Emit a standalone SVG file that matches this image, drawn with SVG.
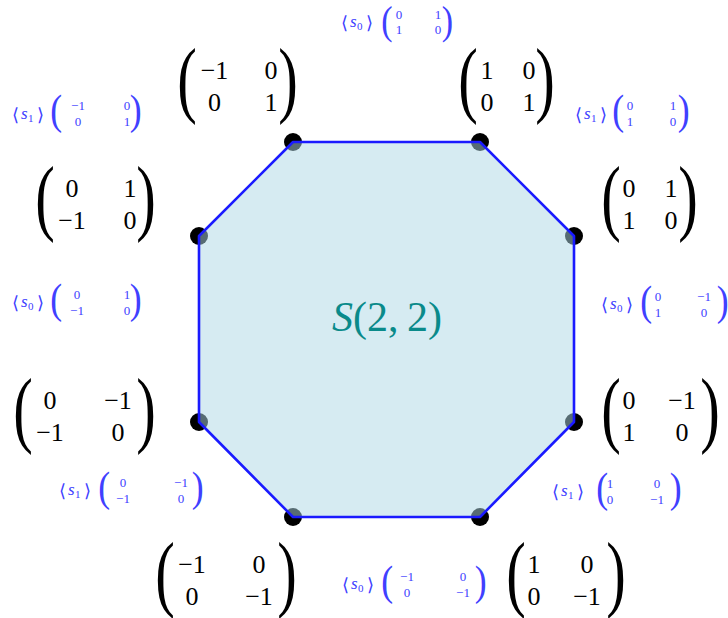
<svg xmlns="http://www.w3.org/2000/svg" width="728" height="618" viewBox="0 0 728 618">
<rect width="728" height="618" fill="#fff"/>
<g id="vertex-dots" fill="#000">
<circle cx="293" cy="142" r="9"/>
<circle cx="480" cy="142" r="9"/>
<circle cx="574" cy="236" r="9"/>
<circle cx="574" cy="422" r="9"/>
<circle cx="480" cy="517" r="9"/>
<circle cx="293" cy="517" r="9"/>
<circle cx="199" cy="422" r="9"/>
<circle cx="199" cy="236" r="9"/>
</g>
<g id="connectors">
<polygon points="293,142 480,142 574,236 574,422 480,517 293,517 199,422 199,236" fill="#add8e6" fill-opacity="0.5" stroke="#1a1aff" stroke-width="2.6" stroke-linejoin="round"/>
</g>
<g id="S22">
<text style="font-family:'Liberation Serif',serif" font-size="42" fill="#0a8a8a" text-anchor="middle" x="387" y="331"><tspan font-style="italic">S</tspan>(2,&#8201;2)</text>
</g>
<g id="m1" fill="#000">
<text style="font-family:'Liberation Serif',serif" font-size="84" transform="translate(177.2,107) scale(0.7,1)">(</text>
<text style="font-family:'Liberation Serif',serif" font-size="84" transform="translate(278.2,107) scale(0.7,1)">)</text>
<text style="font-family:'Liberation Serif',serif" font-size="26" text-anchor="middle" x="214.5" y="79">−1</text>
<text style="font-family:'Liberation Serif',serif" font-size="26" text-anchor="middle" x="271" y="79">0</text>
<text style="font-family:'Liberation Serif',serif" font-size="26" text-anchor="middle" x="214.5" y="111">0</text>
<text style="font-family:'Liberation Serif',serif" font-size="26" text-anchor="middle" x="271" y="111">1</text>
</g>
<g id="m2" fill="#000">
<text style="font-family:'Liberation Serif',serif" font-size="84" transform="translate(458.2,107) scale(0.7,1)">(</text>
<text style="font-family:'Liberation Serif',serif" font-size="84" transform="translate(535.2,107) scale(0.7,1)">)</text>
<text style="font-family:'Liberation Serif',serif" font-size="26" text-anchor="middle" x="487" y="79">1</text>
<text style="font-family:'Liberation Serif',serif" font-size="26" text-anchor="middle" x="529" y="79">0</text>
<text style="font-family:'Liberation Serif',serif" font-size="26" text-anchor="middle" x="487" y="111">0</text>
<text style="font-family:'Liberation Serif',serif" font-size="26" text-anchor="middle" x="529" y="111">1</text>
</g>
<g id="m3" fill="#000">
<text style="font-family:'Liberation Serif',serif" font-size="84" transform="translate(35.2,225) scale(0.7,1)">(</text>
<text style="font-family:'Liberation Serif',serif" font-size="84" transform="translate(136.2,225) scale(0.7,1)">)</text>
<text style="font-family:'Liberation Serif',serif" font-size="26" text-anchor="middle" x="72" y="197">0</text>
<text style="font-family:'Liberation Serif',serif" font-size="26" text-anchor="middle" x="130" y="197">1</text>
<text style="font-family:'Liberation Serif',serif" font-size="26" text-anchor="middle" x="72" y="229">−1</text>
<text style="font-family:'Liberation Serif',serif" font-size="26" text-anchor="middle" x="130" y="229">0</text>
</g>
<g id="m4" fill="#000">
<text style="font-family:'Liberation Serif',serif" font-size="84" transform="translate(601.2,225) scale(0.7,1)">(</text>
<text style="font-family:'Liberation Serif',serif" font-size="84" transform="translate(678.2,225) scale(0.7,1)">)</text>
<text style="font-family:'Liberation Serif',serif" font-size="26" text-anchor="middle" x="629" y="197">0</text>
<text style="font-family:'Liberation Serif',serif" font-size="26" text-anchor="middle" x="671" y="197">1</text>
<text style="font-family:'Liberation Serif',serif" font-size="26" text-anchor="middle" x="629" y="229">1</text>
<text style="font-family:'Liberation Serif',serif" font-size="26" text-anchor="middle" x="671" y="229">0</text>
</g>
<g id="m5" fill="#000">
<text style="font-family:'Liberation Serif',serif" font-size="84" transform="translate(13.2,437) scale(0.7,1)">(</text>
<text style="font-family:'Liberation Serif',serif" font-size="84" transform="translate(136.2,437) scale(0.7,1)">)</text>
<text style="font-family:'Liberation Serif',serif" font-size="26" text-anchor="middle" x="50" y="409">0</text>
<text style="font-family:'Liberation Serif',serif" font-size="26" text-anchor="middle" x="118" y="409">−1</text>
<text style="font-family:'Liberation Serif',serif" font-size="26" text-anchor="middle" x="50" y="441">−1</text>
<text style="font-family:'Liberation Serif',serif" font-size="26" text-anchor="middle" x="118" y="441">0</text>
</g>
<g id="m6" fill="#000">
<text style="font-family:'Liberation Serif',serif" font-size="84" transform="translate(601.2,437) scale(0.7,1)">(</text>
<text style="font-family:'Liberation Serif',serif" font-size="84" transform="translate(700.2,437) scale(0.7,1)">)</text>
<text style="font-family:'Liberation Serif',serif" font-size="26" text-anchor="middle" x="629" y="409">0</text>
<text style="font-family:'Liberation Serif',serif" font-size="26" text-anchor="middle" x="682" y="409">−1</text>
<text style="font-family:'Liberation Serif',serif" font-size="26" text-anchor="middle" x="629" y="441">1</text>
<text style="font-family:'Liberation Serif',serif" font-size="26" text-anchor="middle" x="682" y="441">0</text>
</g>
<g id="m7" fill="#000">
<text style="font-family:'Liberation Serif',serif" font-size="84" transform="translate(155.2,601) scale(0.7,1)">(</text>
<text style="font-family:'Liberation Serif',serif" font-size="84" transform="translate(277.2,601) scale(0.7,1)">)</text>
<text style="font-family:'Liberation Serif',serif" font-size="26" text-anchor="middle" x="192" y="573">−1</text>
<text style="font-family:'Liberation Serif',serif" font-size="26" text-anchor="middle" x="259" y="573">0</text>
<text style="font-family:'Liberation Serif',serif" font-size="26" text-anchor="middle" x="192" y="605">0</text>
<text style="font-family:'Liberation Serif',serif" font-size="26" text-anchor="middle" x="259" y="605">−1</text>
</g>
<g id="m8" fill="#000">
<text style="font-family:'Liberation Serif',serif" font-size="84" transform="translate(506.2,601) scale(0.7,1)">(</text>
<text style="font-family:'Liberation Serif',serif" font-size="84" transform="translate(606.2,601) scale(0.7,1)">)</text>
<text style="font-family:'Liberation Serif',serif" font-size="26" text-anchor="middle" x="534" y="573">1</text>
<text style="font-family:'Liberation Serif',serif" font-size="26" text-anchor="middle" x="587" y="573">0</text>
<text style="font-family:'Liberation Serif',serif" font-size="26" text-anchor="middle" x="534" y="605">0</text>
<text style="font-family:'Liberation Serif',serif" font-size="26" text-anchor="middle" x="587" y="605">−1</text>
</g>
<g id="gA" fill="#4040ff">
<text style="font-family:'DejaVu Sans',sans-serif" font-size="18" x="341" y="29">⟨</text>
<text style="font-family:'Liberation Serif',serif" font-style="italic" font-size="17" x="350" y="27">s</text>
<text style="font-family:'Liberation Serif',serif" font-size="11" x="357" y="30">0</text>
<text style="font-family:'DejaVu Sans',sans-serif" font-size="18" x="366" y="29">⟩</text>
<text style="font-family:'Liberation Serif',serif" font-size="40" transform="translate(381.3,34) scale(0.85,1)">(</text>
<text style="font-family:'Liberation Serif',serif" font-size="40" transform="translate(441.8,34) scale(0.85,1)">)</text>
<text style="font-family:'Liberation Serif',serif" font-size="13" text-anchor="middle" x="399" y="19">0</text>
<text style="font-family:'Liberation Serif',serif" font-size="13" text-anchor="middle" x="438" y="19">1</text>
<text style="font-family:'Liberation Serif',serif" font-size="13" text-anchor="middle" x="399" y="34">1</text>
<text style="font-family:'Liberation Serif',serif" font-size="13" text-anchor="middle" x="438" y="34">0</text>
</g>
<g id="gB" fill="#4040ff">
<text style="font-family:'DejaVu Sans',sans-serif" font-size="18" x="12" y="121">⟨</text>
<text style="font-family:'Liberation Serif',serif" font-style="italic" font-size="17" x="21" y="119">s</text>
<text style="font-family:'Liberation Serif',serif" font-size="11" x="28" y="122">1</text>
<text style="font-family:'DejaVu Sans',sans-serif" font-size="18" x="37" y="121">⟩</text>
<text style="font-family:'Liberation Serif',serif" font-size="42" transform="translate(50.3,124.4) scale(0.85,1)">(</text>
<text style="font-family:'Liberation Serif',serif" font-size="42" transform="translate(129.8,124.4) scale(0.85,1)">)</text>
<text style="font-family:'Liberation Serif',serif" font-size="13" text-anchor="middle" x="78" y="110">−1</text>
<text style="font-family:'Liberation Serif',serif" font-size="13" text-anchor="middle" x="127" y="110">0</text>
<text style="font-family:'Liberation Serif',serif" font-size="13" text-anchor="middle" x="78" y="125.5">0</text>
<text style="font-family:'Liberation Serif',serif" font-size="13" text-anchor="middle" x="127" y="125.5">1</text>
</g>
<g id="gC" fill="#4040ff">
<text style="font-family:'DejaVu Sans',sans-serif" font-size="18" x="575" y="121">⟨</text>
<text style="font-family:'Liberation Serif',serif" font-style="italic" font-size="17" x="584" y="119">s</text>
<text style="font-family:'Liberation Serif',serif" font-size="11" x="591" y="122">1</text>
<text style="font-family:'DejaVu Sans',sans-serif" font-size="18" x="600" y="121">⟩</text>
<text style="font-family:'Liberation Serif',serif" font-size="42" transform="translate(612.3,124.4) scale(0.85,1)">(</text>
<text style="font-family:'Liberation Serif',serif" font-size="42" transform="translate(677.8,124.4) scale(0.85,1)">)</text>
<text style="font-family:'Liberation Serif',serif" font-size="13" text-anchor="middle" x="630" y="110">0</text>
<text style="font-family:'Liberation Serif',serif" font-size="13" text-anchor="middle" x="673" y="110">1</text>
<text style="font-family:'Liberation Serif',serif" font-size="13" text-anchor="middle" x="630" y="125.5">1</text>
<text style="font-family:'Liberation Serif',serif" font-size="13" text-anchor="middle" x="673" y="125.5">0</text>
</g>
<g id="gD" fill="#4040ff">
<text style="font-family:'DejaVu Sans',sans-serif" font-size="18" x="12" y="309">⟨</text>
<text style="font-family:'Liberation Serif',serif" font-style="italic" font-size="17" x="21" y="307">s</text>
<text style="font-family:'Liberation Serif',serif" font-size="11" x="28" y="310">0</text>
<text style="font-family:'DejaVu Sans',sans-serif" font-size="18" x="37" y="309">⟩</text>
<text style="font-family:'Liberation Serif',serif" font-size="42" transform="translate(50.3,313.4) scale(0.85,1)">(</text>
<text style="font-family:'Liberation Serif',serif" font-size="42" transform="translate(129.8,313.4) scale(0.85,1)">)</text>
<text style="font-family:'Liberation Serif',serif" font-size="13" text-anchor="middle" x="77" y="299">0</text>
<text style="font-family:'Liberation Serif',serif" font-size="13" text-anchor="middle" x="127" y="299">1</text>
<text style="font-family:'Liberation Serif',serif" font-size="13" text-anchor="middle" x="77" y="314.5">−1</text>
<text style="font-family:'Liberation Serif',serif" font-size="13" text-anchor="middle" x="127" y="314.5">0</text>
</g>
<g id="gE" fill="#4040ff">
<text style="font-family:'DejaVu Sans',sans-serif" font-size="18" x="601" y="311">⟨</text>
<text style="font-family:'Liberation Serif',serif" font-style="italic" font-size="17" x="610" y="309">s</text>
<text style="font-family:'Liberation Serif',serif" font-size="11" x="617" y="312">0</text>
<text style="font-family:'DejaVu Sans',sans-serif" font-size="18" x="626" y="311">⟩</text>
<text style="font-family:'Liberation Serif',serif" font-size="42" transform="translate(640.3,315.4) scale(0.85,1)">(</text>
<text style="font-family:'Liberation Serif',serif" font-size="42" transform="translate(716.8,315.4) scale(0.85,1)">)</text>
<text style="font-family:'Liberation Serif',serif" font-size="13" text-anchor="middle" x="658" y="301">0</text>
<text style="font-family:'Liberation Serif',serif" font-size="13" text-anchor="middle" x="704" y="301">−1</text>
<text style="font-family:'Liberation Serif',serif" font-size="13" text-anchor="middle" x="658" y="316.5">1</text>
<text style="font-family:'Liberation Serif',serif" font-size="13" text-anchor="middle" x="704" y="316.5">0</text>
</g>
<g id="gF" fill="#4040ff">
<text style="font-family:'DejaVu Sans',sans-serif" font-size="18" x="59" y="497">⟨</text>
<text style="font-family:'Liberation Serif',serif" font-style="italic" font-size="17" x="68" y="495">s</text>
<text style="font-family:'Liberation Serif',serif" font-size="11" x="75" y="498">1</text>
<text style="font-family:'DejaVu Sans',sans-serif" font-size="18" x="84" y="497">⟩</text>
<text style="font-family:'Liberation Serif',serif" font-size="42" transform="translate(98.3,501.4) scale(0.85,1)">(</text>
<text style="font-family:'Liberation Serif',serif" font-size="42" transform="translate(191.8,501.4) scale(0.85,1)">)</text>
<text style="font-family:'Liberation Serif',serif" font-size="13" text-anchor="middle" x="123" y="487">0</text>
<text style="font-family:'Liberation Serif',serif" font-size="13" text-anchor="middle" x="181" y="487">−1</text>
<text style="font-family:'Liberation Serif',serif" font-size="13" text-anchor="middle" x="123" y="502.5">−1</text>
<text style="font-family:'Liberation Serif',serif" font-size="13" text-anchor="middle" x="181" y="502.5">0</text>
</g>
<g id="gG" fill="#4040ff">
<text style="font-family:'DejaVu Sans',sans-serif" font-size="18" x="552" y="498">⟨</text>
<text style="font-family:'Liberation Serif',serif" font-style="italic" font-size="17" x="561" y="496">s</text>
<text style="font-family:'Liberation Serif',serif" font-size="11" x="568" y="499">1</text>
<text style="font-family:'DejaVu Sans',sans-serif" font-size="18" x="577" y="498">⟩</text>
<text style="font-family:'Liberation Serif',serif" font-size="42" transform="translate(596.3,502.4) scale(0.85,1)">(</text>
<text style="font-family:'Liberation Serif',serif" font-size="42" transform="translate(669.8,502.4) scale(0.85,1)">)</text>
<text style="font-family:'Liberation Serif',serif" font-size="13" text-anchor="middle" x="610" y="488">1</text>
<text style="font-family:'Liberation Serif',serif" font-size="13" text-anchor="middle" x="657" y="488">0</text>
<text style="font-family:'Liberation Serif',serif" font-size="13" text-anchor="middle" x="610" y="503.5">0</text>
<text style="font-family:'Liberation Serif',serif" font-size="13" text-anchor="middle" x="657" y="503.5">−1</text>
</g>
<g id="gH" fill="#4040ff">
<text style="font-family:'DejaVu Sans',sans-serif" font-size="18" x="342" y="591">⟨</text>
<text style="font-family:'Liberation Serif',serif" font-style="italic" font-size="17" x="351" y="589">s</text>
<text style="font-family:'Liberation Serif',serif" font-size="11" x="358" y="592">0</text>
<text style="font-family:'DejaVu Sans',sans-serif" font-size="18" x="367" y="591">⟩</text>
<text style="font-family:'Liberation Serif',serif" font-size="42" transform="translate(381.3,595.4) scale(0.85,1)">(</text>
<text style="font-family:'Liberation Serif',serif" font-size="42" transform="translate(474.8,595.4) scale(0.85,1)">)</text>
<text style="font-family:'Liberation Serif',serif" font-size="13" text-anchor="middle" x="407" y="581">−1</text>
<text style="font-family:'Liberation Serif',serif" font-size="13" text-anchor="middle" x="463" y="581">0</text>
<text style="font-family:'Liberation Serif',serif" font-size="13" text-anchor="middle" x="407" y="596.5">0</text>
<text style="font-family:'Liberation Serif',serif" font-size="13" text-anchor="middle" x="463" y="596.5">−1</text>
</g>
</svg>
